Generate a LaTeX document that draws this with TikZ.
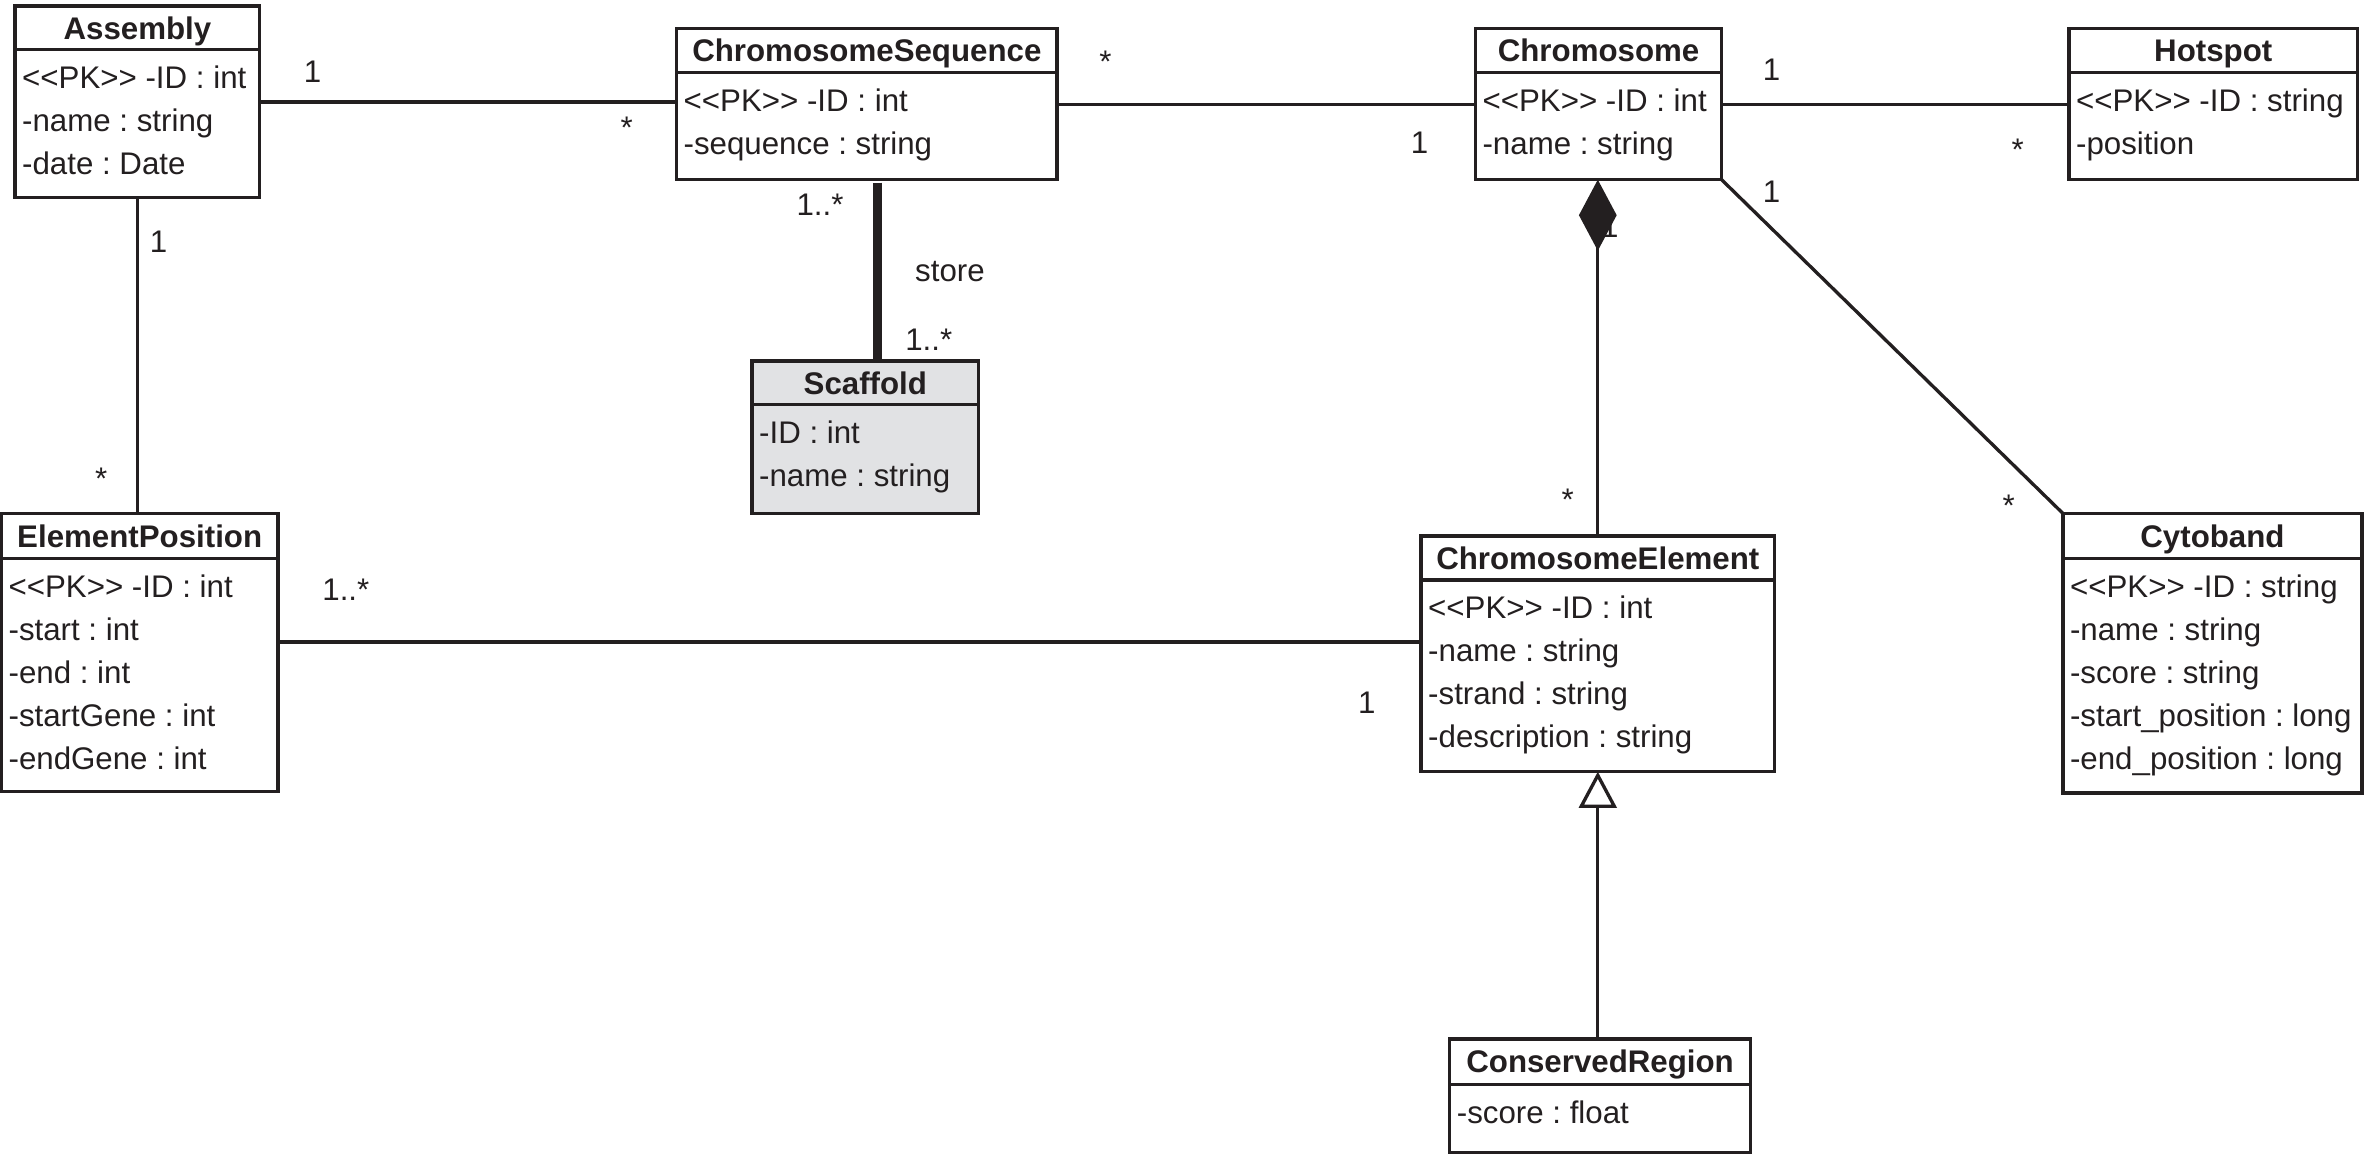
\documentclass[tikz,border=0pt]{standalone}
\usepackage{fontspec}
\setmainfont{Liberation Sans}
\usetikzlibrary{arrows.meta,calc}
\definecolor{ink}{HTML}{231F20}
\definecolor{scgray}{HTML}{E1E2E4}
\frenchspacing
\newcommand{\pkmark}{<\kern0pt<PK>\kern0pt>}
% #1 extra options, #2 name, #3 x1, #4 y1, #5 x2, #6 y2, #7 divider y, #8 title, #9 attributes
\newcommand{\clsbox}[9]{%
  \node[classbox,#1, minimum width={#5pt-#3pt}, minimum height={#6pt-#4pt}, anchor=north west] (#2) at (#3,#4) {};
  \draw[boxline] (#3,#7) -- (#5,#7);
  \node[ttl] (#2-t) at ({(#3+#5)/2},{(#4+#7)/2+7.4}) {#8};
  \foreach \a [count=\i] in {#9} {
    \node[attr] (#2-a\i) at ({#3+4.5},{#7+25.7+(\i-1)*28.4}) {\a};
  }
}
\begin{document}
\begin{tikzpicture}[x=1pt,y=-1pt,
  classbox/.style={draw=ink, line width=2.2pt, fill=white, inner sep=0pt, outer sep=0pt},
  boxline/.style={draw=ink, line width=2.2pt},
  ttl/.style={anchor=base, inner sep=0pt, font=\fontsize{20.7}{24}\selectfont\bfseries, text=ink},
  attr/.style={anchor=base west, inner sep=0pt, font=\fontsize{20.7}{24}\selectfont, text=ink},
  lbl/.style={anchor=base, inner sep=0pt, font=\fontsize{20.7}{24}\selectfont, text=ink},
  conn/.style={draw=ink, line width=2.2pt},
  strongconn/.style={draw=ink, line width=6pt}]
\useasboundingbox (0,0) rectangle (1568,765);

\clsbox{}{asm}{10}{4}{172}{131}{33}{Assembly}{\pkmark{} -ID : int, -name : string, -date : Date}
\clsbox{}{cseq}{448}{19}{700}{119}{48}{ChromosomeSequence}{\pkmark{} -ID : int, -sequence : string}
\clsbox{}{chr}{977}{19}{1140}{119}{48}{Chromosome}{\pkmark{} -ID : int, -name : string}
\clsbox{}{hot}{1370}{19}{1561}{119}{48}{Hotspot}{\pkmark{} -ID : string, -position}
\clsbox{fill=scgray}{sc}{498}{239}{648}{340}{268}{Scaffold}{-ID : int, -name : string}
\clsbox{}{ep}{1}{340}{184}{524}{370}{ElementPosition}{\pkmark{} -ID : int, -start : int, -end : int, -startGene : int, -endGene : int}
\clsbox{}{ce}{941}{355}{1175}{511}{384}{ChromosomeElement}{\pkmark{} -ID : int, -name : string, -strand : string, -description : string}
\clsbox{}{cyt}{1366}{340}{1564}{525}{370}{Cytoband}{\pkmark{} -ID : string, -name : string, -score : string, -start\_position : long, -end\_position : long}
\clsbox{}{cr}{960}{688}{1159}{763}{718}{ConservedRegion}{-score : float}

% connectors
\draw[conn] (asm.east) -- (asm.east -| cseq.west);
\draw[conn] (cseq.east) -- (chr.west);
\draw[conn] (chr.east) -- (hot.west);
\draw[conn] (asm.south) -- (asm.south |- ep.north);
\coordinate (epA) at ($(ep.east)+(0,-7)$);
\draw[conn] (epA) -- (epA -| ce.west);
\coordinate (csA) at ($(cseq.south)+(7,2)$);
\coordinate (scA) at ($(sc.north)+(8,-1)$);
\draw[strongconn] (csA) -- (scA);
\draw[conn] (chr.south east) -- (cyt.north west);

\node[lbl] (lcomp) at (1066,157) {1};
\draw[conn, -{Diamond[length=47pt,width=25pt]}] (ce.north) -- (ce.north |- chr.south);
\draw[conn, -{Triangle[open, length=24pt, width=25pt, fill=white]}] (ce.south |- cr.north) -- (ce.south);

% multiplicities
\node[lbl] (m1) at (207,54.4) {1};
\node[lbl] (m2) at (415,92) {*};
\node[lbl] (m3) at (732,48) {*};
\node[lbl] (m4) at (940,101.4) {1};
\node[lbl] (m5) at (1173,53.4) {1};
\node[lbl] (m6) at (1336,106) {*};
\node[lbl] (m7) at (1173,134.4) {1};
\node[lbl] (m8) at (1330,342) {*};
\node[lbl] (m9) at (105,167.4) {1};
\node[lbl] (m10) at (67,324) {*};
\node[lbl] (m11) at (229,397.4) {1..*};
\node[lbl] (m12) at (905,472.4) {1};
\node[lbl] (m13) at (1038,338) {*};
\node[lbl] (m14) at (543,142.4) {1..*};
\node[lbl] (m15) at (629,186.4) {store};
\node[lbl] (m16) at (615,232.4) {1..*};
\end{tikzpicture}
\end{document}
